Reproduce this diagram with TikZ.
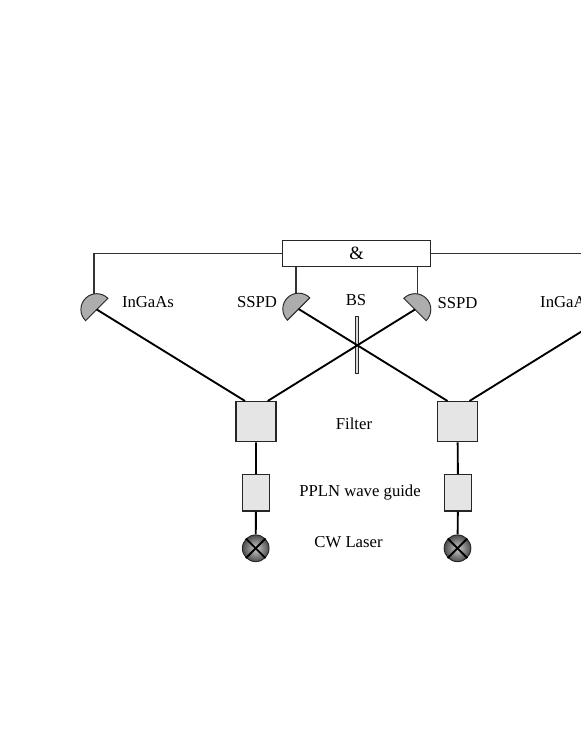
\documentclass[tikz,border=0pt]{standalone}
\usepackage{fontspec}
\setmainfont{Liberation Serif}
\tikzset{
  lbl/.style={font=\fontsize{14.25}{16}\selectfont,inner sep=0pt},
  wire/.style={draw=black!80,line width=1pt},
  beam/.style={draw=black,line width=1.6pt},
  det/.style={draw=black!85,line width=.8pt,fill=black!32},
  filterbox/.style={draw=black!85,line width=1pt,fill=black!10,minimum width=1.2cm,minimum height=1.2cm,inner sep=0pt},
  pplnbox/.style={draw=black!85,line width=1pt,fill=black!10,minimum width=.8cm,minimum height=1.1cm,inner sep=0pt},
  lamp/.style={circle,draw=black!85,line width=.8pt,inner color=black!20,outer color=black!70,minimum size=.8cm,inner sep=0pt},
}
\begin{document}
\begin{tikzpicture}[scale=.3]
  \useasboundingbox (0,0) rectangle (58.1,75.2);
  \clip (0,0) rectangle (58.1,75.2);
  \coordinate (dA) at (9.67,44.25); \coordinate (dB) at (29.86,44.3);
  \coordinate (dC) at (41.5,44.25); \coordinate (dD) at (61.7,44.25);
  \coordinate (wA) at (9.4,45.8); \coordinate (wB) at (29.6,45.8);
  \coordinate (wC) at (41.73,45.8); \coordinate (wD) at (61.9,45.8);
  \coordinate (fA) at (24.5,35.1); \coordinate (fB) at (26.77,35.1);
  \coordinate (fC) at (44.75,35.1); \coordinate (fD) at (46.95,35.1);
  \node[draw=black!85,line width=1pt,minimum width=4.43cm,minimum height=.78cm,inner sep=0pt,font=\fontsize{16}{18}\selectfont] (logic) at (35.67,49.82) {\&};
  \node[filterbox] (filterL) at (25.6,33.02) {};
  \node[filterbox] (filterR) at (45.75,33.02) {};
  \node[pplnbox] (pplnL) at (25.6,25.93) {};
  \node[pplnbox] (pplnR) at (45.8,25.93) {};
  \node[lamp] (lampL) at (25.57,20.37) {};
  \node[lamp] (lampR) at (45.75,20.37) {};
  \node[draw=black!85,line width=.8pt,fill=black!15,minimum width=.09cm,minimum height=1.7cm,inner sep=0pt] (bs) at (35.68,40.73) {};
  \draw[wire] (logic.west) -| (wA);
  \draw[wire] (logic.east) -| (wD);
  \draw[wire] (logic.south -| wB) -- (wB);
  \draw[wire] (logic.south -| wC) -- (wC);
  \draw[det] (dA) ++(45:1.58) arc (45:225:1.58) -- cycle;
  \draw[det] (dB) ++(45:1.58) arc (45:225:1.58) -- cycle;
  \draw[det] (dC) ++(135:1.58) arc (135:-45:1.58) -- cycle;
  \draw[beam] (dA) -- (fA);
  \draw[beam] (dB) -- (fC);
  \draw[beam] (dC) -- (fB);
  \draw[beam] (dD) -- (fD);
  \draw[beam] (filterL) -- (pplnL) -- (lampL);
  \draw[beam] (filterR) -- (pplnR) -- (lampR);
  \draw[beam] (lampL.45) -- (lampL.225); \draw[beam] (lampL.135) -- (lampL.315);
  \draw[beam] (lampR.45) -- (lampR.225); \draw[beam] (lampR.135) -- (lampR.315);
  \node[lbl] (ingaasL) at (14.8,45.0) {InGaAs};
  \node[lbl] (sspdL) at (25.7,45.0) {SSPD};
  \node[lbl] (bslbl) at (35.6,45.2) {BS};
  \node[lbl] (sspdR) at (45.75,44.9) {SSPD};
  \node[lbl,anchor=west] (ingaasR) at (54.0,45.0) {InGaAs};
  \node[lbl] (filterlbl) at (35.4,32.8) {Filter};
  \node[lbl] (pplnlbl) at (36.0,25.9) {PPLN wave guide};
  \node[lbl] (cwlbl) at (34.85,21.0) {CW Laser};
\end{tikzpicture}
\end{document}
